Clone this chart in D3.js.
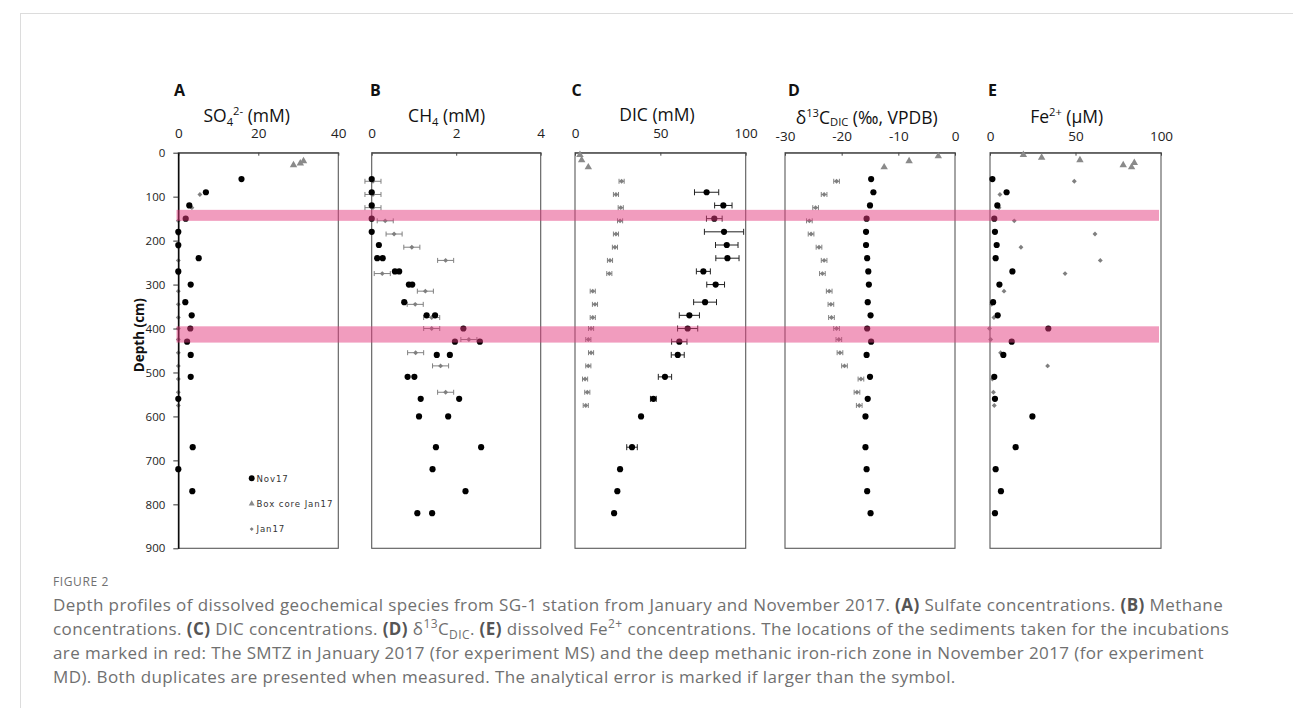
<!DOCTYPE html>
<html>
<head>
<meta charset="utf-8">
<script src="https://cdn.jsdelivr.net/npm/d3@7"></script>
<style>
  body { margin: 0; background: #fff; }
  svg { display: block; font-family: "Open Sans", "Noto Sans", sans-serif; }
</style>
</head>
<body>
<svg id="chart" width="1293" height="708"></svg>
<script>
// sampling depths (cm)
const nov17Depth = [60, 90, 120, 150, 180, 210, 240, 270, 300, 340, 370, 400, 430, 460, 510, 560, 600, 670, 720, 770, 820];
const jan17Depth = [65, 95, 125, 155, 185, 215, 245, 275, 315, 345, 375, 400, 425, 455, 485, 515, 545, 575];

// A - sulfate (mM)
const nov17SO4 = [15.8, 6.9, 2.75, 1.85, 0, 0, 5.1, 0, 3.1, 1.75, 3.35, 3.0, 2.2, 3.1, 3.1, 0, null, 3.6, 0, 3.5, null];
const jan17SO4 = [null, 5.4, 3.4, 0, 0, 0, 0, 0, 0, 0, 0, 0, 0, 0, 0, 0, 0, 0];
const boxSO4Depth = [19, 24, 28];
const boxSO4 = [31.3, 30.5, 28.8];

// B - methane (mM), Nov17 duplicates
const nov17CH4a = [0, 0, 0, 0, 0, 0.17, 0.13, 0.55, 0.88, 0.77, 1.30, 2.17, 1.97, 1.54, 0.85, 1.16, 1.12, 1.52, 1.44, 2.22, 1.08];
const nov17CH4b = [null, null, null, null, null, null, 0.26, 0.65, 0.96, null, 1.50, null, 2.56, 1.85, 1.01, 2.07, 1.81, 2.59, null, null, 1.43];
const jan17CH4 = [0.03, 0.03, 0.03, 0.32, 0.53, 0.95, 1.75, 0.25, 1.27, 1.03, 1.42, 1.42, 2.30, 1.04, 1.63, null, 1.75, null];
const jan17CH4Err = 0.19;

// C - DIC (mM)
const nov17DIC = [null, 77.1, 86.9, 81.6, 87.3, 88.9, 89.3, 75.2, 82.4, 76.2, 67.0, 66.0, 61.1, 60.2, 52.7, 45.9, 38.7, 33.4, 26.4, 24.8, 22.9];
const nov17DICErr = [null, 7.1, 5.1, 4.6, 11.5, 6.6, 6.8, 4.1, 5.2, 6.7, 5.9, 5.9, 4.5, 3.8, 3.9, 1.7, 0, 3.1, 0, 0, 0];
const jan17DIC = [27.3, 24.0, 26.8, 26.4, 24.0, 23.4, 20.5, 20.1, 10.4, 11.7, 10.4, 9.4, 7.8, 9.4, 7.8, 5.9, 7.2, 6.3];
const jan17DICErr = 1.5;
const boxDICDepth = [5, 17, 33];
const boxDIC = [2.9, 3.9, 7.8];

// D - d13C DIC (permil VPDB)
const nov17D13C = [-14.8, -14.4, -15.0, -15.6, -15.7, -15.7, -15.5, -15.3, -15.2, -15.4, -14.9, -15.5, -14.8, -15.6, -15.0, -15.4, -15.8, -15.8, -15.6, -15.5, -14.9];
const jan17D13C = [-20.9, -23.1, -24.6, -25.7, -25.4, -24.0, -23.1, -23.4, -22.2, -21.9, -21.8, -20.9, -20.5, -20.3, -19.5, -16.6, -17.3, -16.9];
const jan17D13CErr = 0.5;
const boxD13CDepth = [8, 19, 33];
const boxD13C = [-2.95, -8.1, -12.5];

// E - Fe2+ (uM)
const nov17Fe = [1.4, 9.7, 4.3, 2.5, 2.9, 3.9, 3.3, 13.1, 5.5, 1.8, 4.5, 34.1, 12.7, 7.8, 2.5, 2.9, 24.8, 15.0, 3.3, 6.4, 2.9];
const jan17Fe = [49.3, 5.8, 5.3, 14.2, 61.4, 18.1, 64.5, 43.9, 8.2, 1.0, 2.3, -0.3, 0.4, 6.2, 33.7, 1.4, 2.0, 2.5];
const boxFeDepth = [5, 11, 17, 23, 28, 33];
const boxFe = [19.5, 30.2, 52.6, 84.4, 77.9, 82.8];

// incubation sediment zones (cm)
const bandTop = [130, 395];
const bandBottom = [155, 432];

const depthTicks = [0, 100, 200, 300, 400, 500, 600, 700, 800, 900];

const svg = d3.select("#chart");
const y = d3.scaleLinear().domain([0, 900]).range([152.7, 548.3]);

// page frame lines
svg.append("line").attr("x1", 20).attr("x2", 1293).attr("y1", 13.5).attr("y2", 13.5)
  .attr("stroke", "#dcdcdc");
svg.append("line").attr("x1", 20.5).attr("x2", 20.5).attr("y1", 13.5).attr("y2", 708)
  .attr("stroke", "#dcdcdc");

const panels = [
  { letter: "A", domain: [0, 40], ticks: [0, 20, 40], left: 178.3, right: 338.3, letterX: 174,
    titleX: 246.7, titleY: 121.5, tickPad: 14.5, subShift: 0.28,
    title: [["SO", "n"], ["4", "sub"], ["2-", "sup"], [" (mM)", "n"]],
    nov: [nov17SO4], novErr: null, jan: jan17SO4, janErr: null, boxDepth: boxSO4Depth, box: boxSO4 },
  { letter: "B", domain: [0, 4], ticks: [0, 2, 4], left: 371.7, right: 540.7, letterX: 370,
    titleX: 446.7, titleY: 121.5, tickPad: 14.5, subShift: 0.28,
    title: [["CH", "n"], ["4", "sub"], [" (mM)", "n"]],
    nov: [nov17CH4a, nov17CH4b], novErr: null, jan: jan17CH4, janErr: jan17CH4Err, boxDepth: [], box: [] },
  { letter: "C", domain: [0, 100], ticks: [0, 50, 100], left: 575, right: 745.7, letterX: 571.5,
    titleX: 657, titleY: 120.5, tickPad: 14.5, subShift: 0.28,
    title: [["DIC (mM)", "n"]],
    nov: [nov17DIC], novErr: nov17DICErr, jan: jan17DIC, janErr: jan17DICErr, boxDepth: boxDICDepth, box: boxDIC },
  { letter: "D", domain: [-30, 0], ticks: [-30, -20, -10, 0], left: 785, right: 955, letterX: 788,
    titleX: 866.7, titleY: 123.5, tickPad: 11.5, subShift: 0.12,
    title: [["δ", "n"], ["13", "sup"], ["C", "n"], ["DIC", "sub"], [" (‰, VPDB)", "n"]],
    nov: [nov17D13C], novErr: null, jan: jan17D13C, janErr: jan17D13CErr, boxDepth: boxD13CDepth, box: boxD13C },
  { letter: "E", domain: [0, 100], ticks: [0, 50, 100], left: 990, right: 1161, letterX: 988,
    titleX: 1066.7, titleY: 123, tickPad: 11.5, subShift: 0.28,
    title: [["Fe", "n"], ["2+", "sup"], [" (μM)", "n"]],
    nov: [nov17Fe], novErr: null, jan: jan17Fe, janErr: null, boxDepth: boxFeDepth, box: boxFe },
];

// writes text with sub/superscript pieces as tspans
function richText(sel, segs, size, subShift) {
  const offs = { n: 0, sub: subShift * size, sup: -0.4 * size };
  let cur = 0;
  segs.forEach(([txt, kind]) => {
    const t = sel.append("tspan").text(txt).attr("dy", offs[kind] - cur);
    if (kind !== "n") t.attr("font-size", size * 0.64);
    cur = offs[kind];
  });
}

const circle = d3.symbol(d3.symbolCircle, 30)();
const diamond = d3.symbol(d3.symbolSquare, 12)();
const triangle = d3.symbol(d3.symbolTriangle, 24)();

panels.forEach((p) => {
  const x = d3.scaleLinear().domain(p.domain).range([p.left, p.right]);
  const g = svg.append("g").attr("class", "panel-" + p.letter);

  // frame
  g.append("rect")
    .attr("x", p.left).attr("y", y(0))
    .attr("width", p.right - p.left).attr("height", y(900) - y(0))
    .attr("fill", "none").attr("stroke", "#5a5a5a").attr("stroke-width", 1.1);

  // top axis
  const ax = g.append("g")
    .attr("transform", `translate(0,${y(0)})`)
    .call(d3.axisTop(x).tickValues(p.ticks).tickFormat((d) => String(d))
      .tickSizeInner(-3).tickSizeOuter(0).tickPadding(p.tickPad));
  ax.select(".domain").attr("stroke", "#444");
  ax.selectAll(".tick line").attr("stroke", "#444").attr("y1", 0).attr("y2", 3);
  ax.selectAll(".tick text")
    .attr("font-family", "Open Sans, sans-serif").attr("font-size", 13.5).attr("fill", "#222");

  g.append("text")
    .attr("x", p.letterX).attr("y", 96)
    .attr("font-size", 16).attr("font-weight", 700).attr("fill", "#111")
    .text(p.letter);

  const title = g.append("text")
    .attr("x", p.titleX).attr("y", p.titleY)
    .attr("text-anchor", "middle").attr("font-size", 17.5).attr("fill", "#111");
  richText(title, p.title, 17.5, p.subShift);

  // Jan17 error bars + diamonds
  const jan = jan17Depth.map((d, i) => ({ d, v: p.jan[i] })).filter((e) => e.v != null);
  if (p.janErr) {
    const eb = g.append("g").attr("stroke", "#808080").attr("stroke-width", 1);
    jan.forEach((e) => {
      const x0 = x(e.v - p.janErr), x1 = x(e.v + p.janErr), yy = y(e.d);
      eb.append("line").attr("x1", x0).attr("x2", x1).attr("y1", yy).attr("y2", yy);
      eb.append("line").attr("x1", x0).attr("x2", x0).attr("y1", yy - 2.5).attr("y2", yy + 2.5);
      eb.append("line").attr("x1", x1).attr("x2", x1).attr("y1", yy - 2.5).attr("y2", yy + 2.5);
    });
  }
  g.selectAll(".jan").data(jan).join("path")
    .attr("class", "jan")
    .attr("d", diamond)
    .attr("transform", (e) => `translate(${x(e.v)},${y(e.d)}) rotate(45)`)
    .attr("fill", "#7f7f7f");

  // Nov17 error bars + circles
  p.nov.forEach((series) => {
    const nov = nov17Depth.map((d, i) => ({ d, v: series[i], err: p.novErr ? p.novErr[i] : 0 }))
      .filter((e) => e.v != null);
    const eb = g.append("g").attr("stroke", "#222").attr("stroke-width", 1);
    nov.filter((e) => e.err > 0).forEach((e) => {
      const x0 = x(e.v - e.err), x1 = x(e.v + e.err), yy = y(e.d);
      eb.append("line").attr("x1", x0).attr("x2", x1).attr("y1", yy).attr("y2", yy);
      eb.append("line").attr("x1", x0).attr("x2", x0).attr("y1", yy - 3).attr("y2", yy + 3);
      eb.append("line").attr("x1", x1).attr("x2", x1).attr("y1", yy - 3).attr("y2", yy + 3);
    });
    g.append("g").selectAll("path").data(nov).join("path")
      .attr("d", circle)
      .attr("transform", (e) => `translate(${x(e.v)},${y(e.d)})`)
      .attr("fill", "#000");
  });

  // box core
  g.append("g").selectAll("path").data(p.box.map((v, i) => ({ v, d: p.boxDepth[i] }))).join("path")
    .attr("d", triangle)
    .attr("transform", (e) => `translate(${x(e.v)},${y(e.d)})`)
    .attr("fill", "#8a8a8a");
});

// depth axis on panel A
const yAxis = svg.append("g")
  .attr("transform", `translate(${panels[0].left},0)`)
  .call(d3.axisLeft(y).tickValues(depthTicks).tickSizeInner(5).tickSizeOuter(0).tickPadding(8));
yAxis.select(".domain").attr("stroke", "#000").attr("stroke-width", 1.4);
yAxis.selectAll(".tick line").attr("stroke", "#333");
yAxis.selectAll(".tick text")
  .attr("font-family", "Open Sans, sans-serif").attr("font-size", 11.5).attr("fill", "#222");

svg.append("text")
  .attr("transform", `translate(143.5,${y(415)}) rotate(-90)`)
  .attr("text-anchor", "middle")
  .attr("font-size", 13.5).attr("font-weight", 700).attr("fill", "#111")
  .text("Depth (cm)");

// legend
const legendItems = [
  { label: "Nov17", sym: circle, fill: "#000", rot: 0 },
  { label: "Box core Jan17", sym: triangle, fill: "#8a8a8a", rot: 0 },
  { label: "Jan17", sym: diamond, fill: "#7f7f7f", rot: 45 },
];
const legend = svg.append("g");
legendItems.forEach((it, i) => {
  const ly = 478.3 + i * 25.4;
  legend.append("path").attr("d", it.sym)
    .attr("transform", `translate(251.7,${ly}) rotate(${it.rot}) scale(${i === 0 ? 0.95 : 0.8})`)
    .attr("fill", it.fill);
  legend.append("text")
    .attr("x", 256.5).attr("y", ly + 3.3)
    .attr("font-family", "DejaVu Sans, sans-serif")
    .attr("font-size", 8.6).attr("letter-spacing", 0.9).attr("fill", "#333")
    .text(it.label);
});

// incubation zones drawn on top
svg.append("g").selectAll("rect").data(bandTop).join("rect")
  .attr("x", 176.5).attr("width", 1159 - 176.5)
  .attr("y", (d) => y(d))
  .attr("height", (d, i) => y(bandBottom[i]) - y(d))
  .attr("fill", "rgb(228,58,125)").attr("opacity", 0.5);

// caption
const cap = svg.append("g").attr("font-family", "Open Sans, sans-serif").attr("fill", "#707070");
cap.append("text").attr("x", 53).attr("y", 586)
  .attr("font-size", 12).attr("letter-spacing", 0.6).text("FIGURE 2");

const capLines = [
  [["Depth profiles of dissolved geochemical species from SG-1 station from January and November 2017. ", "n"], ["(A)", "b"], [" Sulfate concentrations. ", "n"], ["(B)", "b"], [" Methane", "n"]],
  [["concentrations. ", "n"], ["(C)", "b"], [" DIC concentrations. ", "n"], ["(D)", "b"], [" δ", "n"], ["13", "sup"], ["C", "n"], ["DIC", "sub"], [". ", "n"], ["(E)", "b"], [" dissolved Fe", "n"], ["2+", "sup"], [" concentrations. The locations of the sediments taken for the incubations", "n"]],
  [["are marked in red: The SMTZ in January 2017 (for experiment MS) and the deep methanic iron-rich zone in November 2017 (for experiment", "n"]],
  [["MD). Both duplicates are presented when measured. The analytical error is marked if larger than the symbol.", "n"]],
];
capLines.forEach((segs, i) => {
  const t = cap.append("text").attr("x", 53).attr("y", 610.5 + i * 24)
    .attr("font-size", 17).attr("letter-spacing", 0.4);
  let cur = 0;
  const offs = { n: 0, b: 0, sub: 4, sup: -6.5 };
  segs.forEach(([txt, kind]) => {
    const s = t.append("tspan").text(txt).attr("dy", offs[kind] - cur);
    if (kind === "b") s.attr("font-weight", 700).attr("fill", "#555");
    if (kind === "sub" || kind === "sup") s.attr("font-size", 12);
    cur = offs[kind];
  });
});
</script>
</body>
</html>
